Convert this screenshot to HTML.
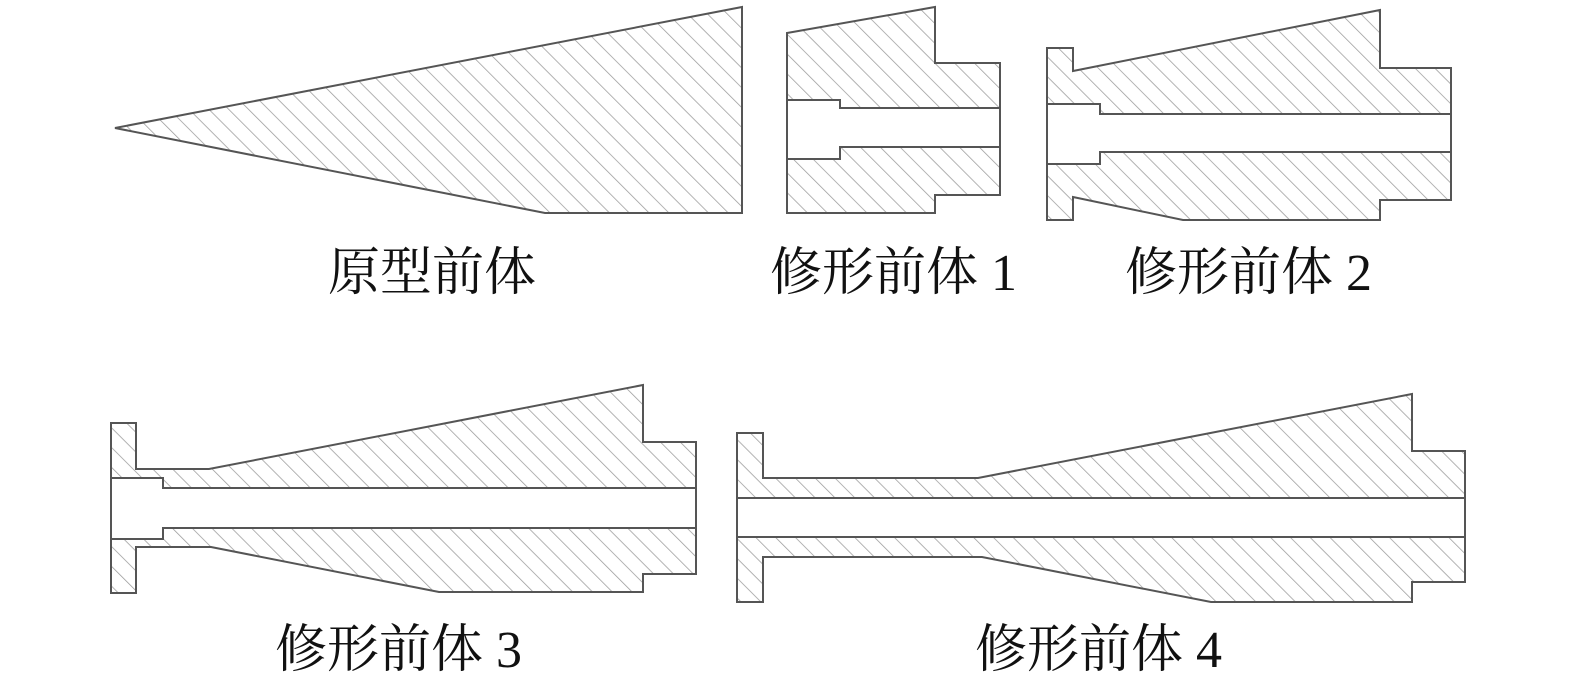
<!DOCTYPE html>
<html><head><meta charset="utf-8"><style>
html,body{margin:0;padding:0;background:#fff}
svg{display:block}
text{font-family:"Liberation Serif","Noto Serif CJK SC",serif;font-size:52px;fill:#111}
</style></head><body>
<svg width="1575" height="681" viewBox="0 0 1575 681" xmlns="http://www.w3.org/2000/svg">
<defs>
<pattern id="h" width="14" height="14" patternUnits="userSpaceOnUse" patternTransform="rotate(-45)">
<line x1="0" y1="0" x2="0" y2="14" stroke="#9a9a9a" stroke-width="1.5"/>
</pattern>
</defs>
<g stroke="#555" stroke-width="2" fill="url(#h)" stroke-linejoin="miter">
<!-- 原型 -->
<polygon points="115,128 742,7 742,213 545,213"/>
<!-- 修形1 -->
<polygon points="787,33 935,7 935,63 1000,63 1000,195 935,195 935,213 787,213"/>
<rect x="787" y="100" width="53" height="59" fill="#fff"/>
<rect x="840" y="108" width="160" height="39" fill="#fff"/>
<line x1="840" y1="109" x2="840" y2="146" stroke="#fff" stroke-width="3"/>
<!-- 修形2 -->
<polygon points="1047,48 1073,48 1073,71 1380,10 1380,68 1451,68 1451,200 1380,200 1380,220 1183,220 1073,197 1073,220 1047,220"/>
<rect x="1047" y="104" width="53" height="60" fill="#fff"/>
<rect x="1100" y="114" width="351" height="38" fill="#fff"/>
<line x1="1100" y1="115" x2="1100" y2="151" stroke="#fff" stroke-width="3"/>
<!-- 修形3 -->
<polygon points="111,423 136,423 136,469 209,469 643,385 643,442 696,442 696,574 643,574 643,592 439,592 211,547 136,547 136,593 111,593"/>
<rect x="111" y="478" width="52" height="61" fill="#fff"/>
<rect x="163" y="488" width="533" height="40" fill="#fff"/>
<line x1="163" y1="489" x2="163" y2="527" stroke="#fff" stroke-width="3"/>
<!-- 修形4 -->
<polygon points="737,433 763,433 763,478 978,478 1412,394 1412,451 1465,451 1465,582 1412,582 1412,602 1211,602 982,557 763,557 763,602 737,602"/>
<rect x="737" y="498" width="728" height="39" fill="#fff"/>
</g>
<text x="328" y="290">原型前体</text>
<text x="770" y="290">修形前体 1</text>
<text x="1125" y="290">修形前体 2</text>
<text x="275" y="667">修形前体 3</text>
<text x="975" y="667">修形前体 4</text>
</svg>
</body></html>
